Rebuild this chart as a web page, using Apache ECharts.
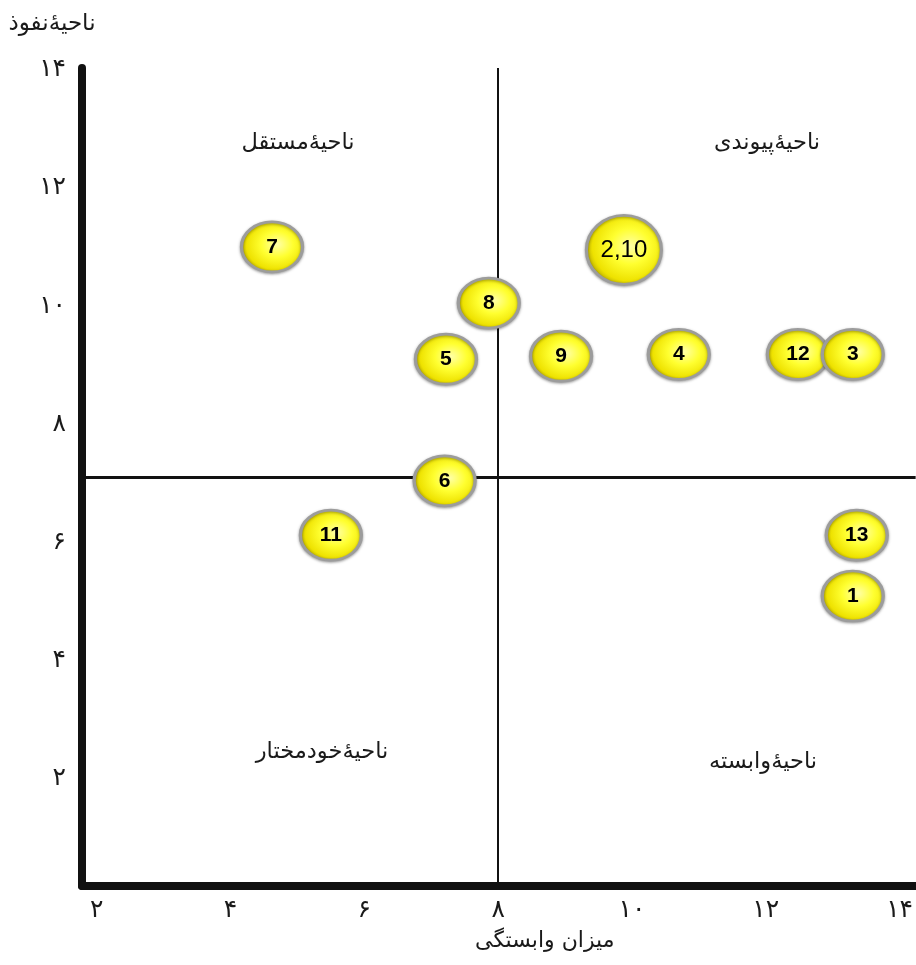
<!DOCTYPE html>
<html>
<head>
<meta charset="utf-8">
<script src="https://cdn.jsdelivr.net/npm/echarts@6/dist/echarts.min.js"></script>
<style>
html,body{margin:0;padding:0;background:#fff;}
#chart{width:916px;height:965px;}
</style>
</head>
<body>
<div id="chart"></div>
<script>
// ---- data ----
const bubbleNames = ['7', '2,10', '8', '5', '9', '4', '12', '3', '6', '11', '13', '1'];
const bubbleX =     [4.62, 9.88, 7.86, 7.22, 8.94, 10.7, 12.48, 13.3, 7.2, 5.5, 13.36, 13.3];
const bubbleY =     [11.0, 10.95, 10.05, 9.1, 9.15, 9.18, 9.18, 9.18, 7.04, 6.12, 6.12, 5.09];
const xTickValues = [2, 4, 6, 8, 10, 12, 14];
const xTickLabels = ['۲', '۴', '۶', '۸', '۱۰', '۱۲', '۱۴'];
const yTickValues = [2, 4, 6, 8, 10, 12, 14];
const yTickLabels = ['۲', '۴', '۶', '۸', '۱۰', '۱۲', '۱۴'];
const dividerX = 8;
const dividerY = 7.1;
const xAxisTitle = 'میزان وابستگی';
const yAxisTitle = 'ناحیۀنفوذ';
const quadrantNames = ['ناحیۀمستقل', 'ناحیۀپیوندی', 'ناحیۀخودمختار', 'ناحیۀوابسته'];

const faFont = "'DejaVu Sans', 'Noto Sans', sans-serif";
const chart = echarts.init(document.getElementById('chart'), null, {renderer: 'canvas'});

const bubbleData = bubbleNames.map((n, i) => {
  const combined = n.indexOf(',') >= 0;
  return {
    name: n,
    value: [bubbleX[i], bubbleY[i]],
    symbolSize: combined ? [75, 69] : [61, 50],
    label: combined ? {fontWeight: 'normal', fontSize: 24} : {}
  };
});

function qText(txt, x, y) {
  return {type: 'text', position: [x, y], z: 5,
    style: {text: txt, font: "22.5px 'DejaVu Sans'", fill: '#1a1a1a', textAlign: 'center', textVerticalAlign: 'middle'}};
}

const option = {
  animation: false,
  backgroundColor: '#ffffff',
  grid: {left: 82, right: 0, top: 68, bottom: 79, containLabel: false},
  xAxis: {
    type: 'value',
    min: 1.78, max: 14.24,
    name: xAxisTitle,
    nameLocation: 'middle',
    nameGap: 44,
    nameTextStyle: {fontFamily: faFont, fontSize: 22, color: '#1a1a1a', padding: [0, 0, 0, 92]},
    axisLine: {show: true, lineStyle: {color: '#111', width: 8, cap: 'round'}},
    axisTick: {show: false},
    splitLine: {show: false},
    axisLabel: {
      customValues: xTickValues,
      margin: 12,
      fontFamily: faFont, fontSize: 25, color: '#1a1a1a',
      formatter: v => { const i = xTickValues.indexOf(Math.round(v)); return i >= 0 ? xTickLabels[i] : ''; }
    }
  },
  yAxis: {
    type: 'value',
    min: 0.18, max: 14.03,
    name: yAxisTitle,
    nameLocation: 'end',
    nameGap: 32,
    nameTextStyle: {fontFamily: faFont, fontSize: 23, color: '#1a1a1a', padding: [0, 60, 0, 0]},
    axisLine: {show: true, lineStyle: {color: '#111', width: 8, cap: 'round'}},
    axisTick: {show: false},
    splitLine: {show: false},
    axisLabel: {
      customValues: yTickValues,
      margin: 16,
      fontFamily: faFont, fontSize: 25, color: '#1a1a1a',
      formatter: v => { const i = yTickValues.indexOf(Math.round(v)); return i >= 0 ? yTickLabels[i] : ''; }
    }
  },
  graphic: [
    qText(quadrantNames[0], 298, 143),
    qText(quadrantNames[1], 767, 143),
    qText(quadrantNames[2], 322, 752),
    qText(quadrantNames[3], 763, 762)
  ],
  series: [
    {
      type: 'line',
      data: [],
      z: 1,
      silent: true,
      markLine: {
        z: 1,
        symbol: 'none',
        silent: true,
        label: {show: false},
        data: [
          {xAxis: dividerX, lineStyle: {color: '#111', width: 2, type: 'solid'}},
          {yAxis: dividerY, lineStyle: {color: '#111', width: 3, type: 'solid'}}
        ]
      }
    },
    {
      type: 'scatter',
      z: 10,
      symbol: 'circle',
      data: bubbleData,
      itemStyle: {
        color: {
          type: 'radial', x: 0.58, y: 0.45, r: 0.62,
          colorStops: [
            {offset: 0, color: '#ffffa8'},
            {offset: 0.4, color: '#ffff30'},
            {offset: 0.78, color: '#eee200'},
            {offset: 1, color: '#a89a00'}
          ]
        },
        borderColor: '#9c9c9c',
        borderWidth: 3,
        shadowBlur: 3,
        shadowColor: 'rgba(0,0,0,0.35)',
        shadowOffsetY: 1,
        opacity: 1
      },
      label: {
        show: true,
        position: 'inside',
        formatter: p => p.name,
        color: '#000',
        fontFamily: "'Liberation Sans', Arial, sans-serif",
        fontWeight: 'bold',
        fontSize: 21
      }
    }
  ]
};
chart.setOption(option);
</script>
</body>
</html>
